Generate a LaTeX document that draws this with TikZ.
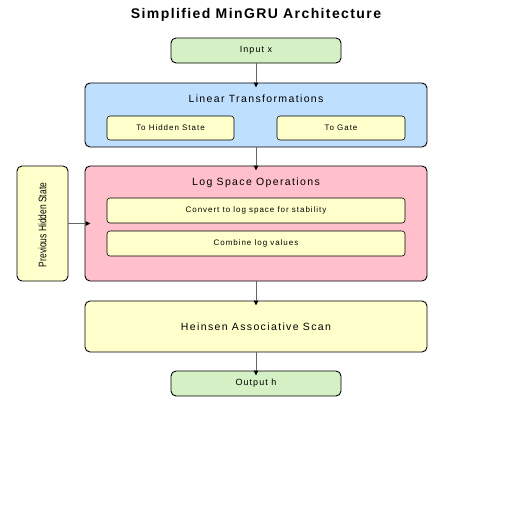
\documentclass[tikz,border=0pt]{standalone}
\usepackage{fontspec}
\setmainfont{Liberation Sans}
\newfontfamily\titlefont[LetterSpace=10]{Liberation Sans}
\newfontfamily\spacedfont[LetterSpace=13]{Liberation Sans}
\newfontfamily\smallfont[LetterSpace=12]{Liberation Sans}
\usetikzlibrary{arrows.meta}
\definecolor{boxgreen}{RGB}{212,240,196}
\definecolor{boxblue}{RGB}{191,223,255}
\definecolor{boxpink}{RGB}{255,192,203}
\definecolor{boxyellow}{RGB}{255,255,204}
\definecolor{linegray}{RGB}{102,102,102}
\tikzset{
    block/.style={draw=black,line width=0.9pt,rounded corners=5pt,inner sep=0pt},
    subblock/.style={draw=black,line width=0.6pt,rounded corners=3pt,fill=boxyellow,inner sep=0pt,font=\smallfont\fontsize{8}{9}\selectfont},
    boxlabel/.style={font=\spacedfont\fontsize{10.5}{12}\selectfont},
    ioblock/.style={block,fill=boxgreen,minimum width=170pt,minimum height=25pt,font=\smallfont\fontsize{9}{10}\selectfont},
    flow/.style={draw=linegray,line width=1pt,-{Triangle[length=5pt,width=4.5pt,black]},shorten >=-5pt}
}
\begin{document}
\begin{tikzpicture}[x=1pt,y=-1pt]
    \useasboundingbox[fill=white] (0,0) rectangle (512,512);
    \node[font=\titlefont\bfseries\fontsize{14}{16}\selectfont] (title) at (256,15) {Simplified MinGRU Architecture};
    \node[ioblock] (input) at (256,50.5) {Input x};
    \node[block,fill=boxblue,minimum width=342pt,minimum height=64pt] (linear) at (256,115) {};
    \node[boxlabel] (linlabel) at (256,98.5) {Linear Transformations};
    \node[subblock,minimum width=127pt,minimum height=24pt] (tohidden) at (170.5,128) {To Hidden State};
    \node[subblock,minimum width=128pt,minimum height=24pt] (togate) at (341,128) {To Gate};
    \node[block,fill=boxpink,minimum width=342pt,minimum height=115pt] (logops) at (256,223.5) {};
    \node[boxlabel] (loglabel) at (256,182.5) {Log Space Operations};
    \node[subblock,minimum width=298pt,minimum height=25pt] (convert) at (256,210.5) {Convert to log space for stability};
    \node[subblock,minimum width=298pt,minimum height=25pt] (combine) at (256,243.5) {Combine log values};
    \node[block,fill=boxyellow,minimum width=51pt,minimum height=115pt] (prev) at (42.5,223.5) {};
    \node[rotate=90,xscale=0.77,font=\fontsize{11}{13}\selectfont] (prevlabel) at (42.5,225) {Previous Hidden State};
    \node[block,fill=boxyellow,minimum width=342pt,minimum height=51pt,boxlabel] (scan) at (256,326.5) {Heinsen Associative Scan};
    \node[ioblock] (output) at (256,383.5) {Output h};
    % connectors
    \draw[flow] (input) -- (linear);
    \draw[flow] (linear) -- (logops);
    \draw[flow] (logops) -- (scan);
    \draw[flow] (scan) -- (output);
    \draw[flow,shorten >=-6pt] (prev) -- (logops);
\end{tikzpicture}
\end{document}
